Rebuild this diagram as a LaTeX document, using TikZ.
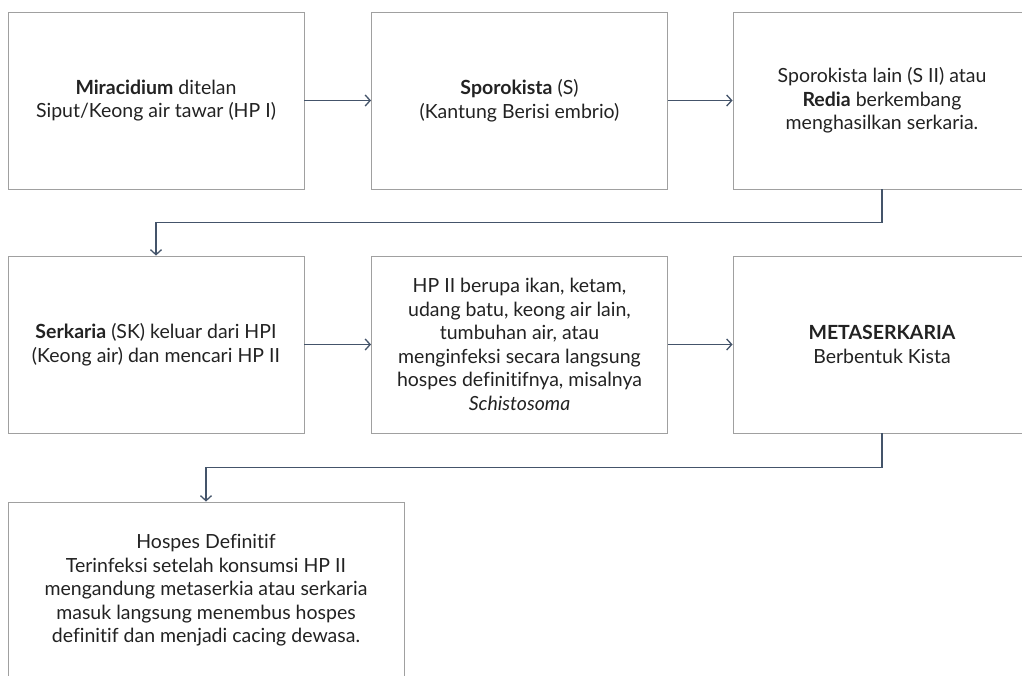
\documentclass[tikz,border=0pt]{standalone}
\usepackage{fontspec}
\setmainfont{Lato}[Ligatures=NoCommon]
\usetikzlibrary{arrows.meta}

\definecolor{boxline}{HTML}{A0A0A0}
\definecolor{flowline}{HTML}{44546A}
\definecolor{txt}{HTML}{222222}

\tikzset{
	stage/.style={draw=boxline, line width=0.9pt, align=center, inner sep=0pt,
		minimum width=296pt, minimum height=177pt, text=txt,
		font=\fontsize{19.5}{23.5}\selectfont},
	flow/.style={draw=flowline, line width=1.3pt, -{Straight Barb[length=5pt,width=11pt]}}
}

\begin{document}
\begin{tikzpicture}[x=1pt, y=-1pt]
	\useasboundingbox (0,0) rectangle (1022,675);

	\node[stage] (mira) at (156,100.5) {\textbf{Miracidium} ditelan\\Siput/Keong air tawar (HP I)};
	\node[stage] (sporo) at (519.5,100.5) {\textbf{Sporokista} (S)\\(Kantung Berisi embrio)};
	\node[stage, minimum width=298pt] (redia) at (882,100.5) {Sporokista lain (S II) atau\\\textbf{Redia} berkembang\\menghasilkan serkaria.};

	\node[stage] (serk) at (156,344.5) {\textbf{Serkaria} (SK) keluar dari HPI\\(Keong air) dan mencari HP II};
	\node[stage] (hpdua) at (519.5,344.5) {HP II berupa ikan, ketam,\\udang batu, keong air lain,\\tumbuhan air, atau\\menginfeksi secara langsung\\hospes definitifnya, misalnya\\\textit{Schistosoma}};
	\node[stage, minimum width=298pt] (meta) at (882,344.5) {\textbf{METASERKARIA}\\Berbentuk Kista};

	\node[stage, minimum width=396pt] (hosdef) at (206,590.5) {Hospes Definitif\\Terinfeksi setelah konsumsi HP II\\mengandung metaserkia atau serkaria\\masuk langsung menembus hospes\\definitif dan menjadi cacing dewasa.};

	\draw[flow] (mira) to (sporo);
	\draw[flow] (sporo) to (redia);
	\draw[flow] (redia.south) -- ++(0,33) -| (serk.north);

	\draw[flow] (serk) to (hpdua);
	\draw[flow] (hpdua) to (meta);
	\draw[flow] (meta.south) -- ++(0,34) -| (hosdef.north);

\end{tikzpicture}
\end{document}
